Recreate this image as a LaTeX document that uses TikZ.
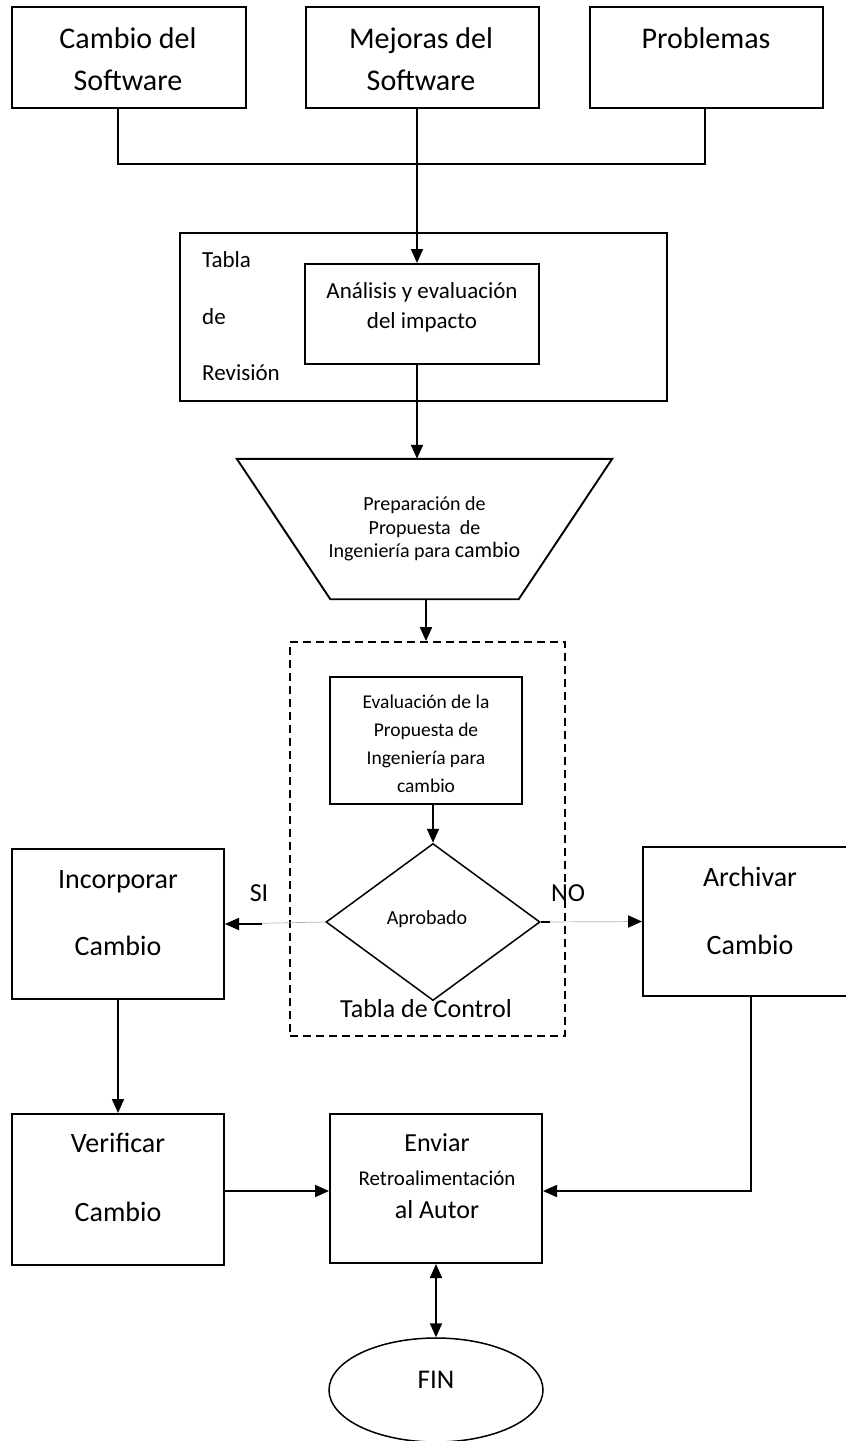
\documentclass[tikz,border=0pt]{standalone}
\usepackage{fontspec}
\setmainfont{Carlito}
\usetikzlibrary{shapes.geometric,arrows.meta,calc}
\begin{document}
\begin{tikzpicture}[x=1pt,y=-1pt,
  box/.style={draw,line width=2pt,inner sep=0pt},
  lbl/.style={inner sep=0pt,align=center},
  lnk/.style={line width=1.9pt},
  arr/.style={line width=1.9pt,-{Triangle[length=14pt,width=12pt]}},
  dblarr/.style={line width=1.9pt,{Triangle[length=14pt,width=12pt]}-{Triangle[length=14pt,width=12pt]}},
  faint/.style={line width=0.7pt,draw=black!30},
]
\useasboundingbox (0,0) rectangle (846,1441);
\clip (0,0) rectangle (846,1441);

% sources of change
\node[box,minimum width=234,minimum height=101] (b1) at (129,57.5) {};
\node[box,minimum width=233,minimum height=101] (b2) at (422.5,57.5) {};
\node[box,minimum width=233,minimum height=101] (b3) at (706.5,57.5) {};
\node[lbl,font=\fontsize{30}{42}\selectfont] (t1) at (128,59) {Cambio del\\Software};
\node[lbl,font=\fontsize{30}{42}\selectfont] (t2) at (421,59) {Mejoras del\\Software};
\node[lbl,font=\fontsize{30}{42}\selectfont] (t3) at (706,38) {Problemas};

% review board
\node[box,minimum width=487,minimum height=168] (tabla) at (423.5,317) {};
\node[box,minimum width=234,minimum height=100] (anal) at (422,314) {};
\node[lbl,font=\fontsize{23}{30}\selectfont] (tanal) at (422,307) {Análisis y evaluación\\del impacto};
\node[lbl,anchor=west,font=\fontsize{23}{23}\selectfont] (tt1) at (202,260) {Tabla};
\node[lbl,anchor=west,font=\fontsize{23}{23}\selectfont] (tt2) at (202,317) {de};
\node[lbl,anchor=west,font=\fontsize{23}{23}\selectfont] (tt3) at (202,373) {Revisión};

% engineering change proposal: inverted trapezoid around a frame node
\node[minimum width=375,minimum height=140,inner sep=0pt,
      align=center,font=\fontsize{20}{23.5}\selectfont] (trap) at (424.5,529)
      {Preparación de\\Propuesta\ \ de\\Ingeniería para {\fontsize{22}{23.5}\selectfont cambio}};
\draw[line width=1.9pt,line join=miter] (trap.north west) -- (trap.north east)
  -- ($(trap.south east)+(-93.5,0)$) -- ($(trap.south west)+(93.5,0)$) -- cycle;

% control board
\node[draw,dashed,dash pattern=on 8pt off 5pt,line width=1.8pt,minimum width=275,minimum height=394,inner sep=0pt] (ctl) at (427.5,839) {};
\node[box,minimum width=192,minimum height=127] (eval) at (426,740.5) {};
\node[lbl,font=\fontsize{19.5}{28}\selectfont] (teval) at (426,744) {Evaluación de la\\Propuesta de\\Ingeniería para\\cambio};
\node[draw,diamond,line width=1.5pt,minimum width=214,minimum height=157,inner sep=0pt] (dia) at (433,922) {};
\node[lbl,font=\fontsize{20}{20}\selectfont] (tdia) at (427,919) {Aprobado};
\node[lbl,font=\fontsize{26}{26}\selectfont] (tctl) at (426,1009) {Tabla de Control};

% outcomes
\node[box,minimum width=212,minimum height=150] (inc) at (118,924) {};
\node[lbl,font=\fontsize{28}{67}\selectfont] (tinc) at (118,913.5) {Incorporar\\Cambio};
\node[box,minimum width=216,minimum height=149] (arc) at (751,921.5) {};
\node[lbl,font=\fontsize{28}{68}\selectfont] (tarc) at (750,911) {Archivar\\Cambio};
\node[lbl,font=\fontsize{26}{26}\selectfont] (si) at (259,893) {SI};
\node[lbl,font=\fontsize{26}{26}\selectfont] (no) at (568,893) {NO};

\node[box,minimum width=212,minimum height=151] (ver) at (118,1189.5) {};
\node[lbl,font=\fontsize{28}{69}\selectfont] (tver) at (118,1177.5) {Verificar\\Cambio};
\node[box,minimum width=212,minimum height=149] (env) at (436,1188.5) {};
\node[lbl,font=\fontsize{26}{33.5}\selectfont] (tenv) at (437,1176.5)
      {Enviar\\{\fontsize{21}{33.5}\selectfont Retroalimentación}\\al Autor};

\node[draw,ellipse,line width=1.5pt,minimum width=214,minimum height=104,inner sep=0pt] (fin) at (436,1390) {};
\node[lbl,font=\fontsize{27}{27}\selectfont] (tfin) at (436,1380) {FIN};

% connectors
\coordinate (j1) at (118,164);
\coordinate (jm) at (417,164);
\coordinate (j3) at (705,164);
\coordinate (tb) at (426,599);
\draw[lnk] (b1.south -| j1) -- (j1) -- (j3) -- (b3.south -| j3);
\draw[arr] (b2.south -| jm) -- (anal.north -| jm);
\draw[arr] (anal.south -| jm) -- (trap.north -| jm);
\draw[arr] (trap.south -| tb) -- (ctl.north -| tb);
\draw[arr] (eval.south -| dia.north) -- (dia.north);

\draw[faint] (dia.west) -- (inc.east);
\draw[arr] ($(inc.east)+(37,0)$) -- (inc.east);
\draw[faint] (dia.east) -- (arc.west);
\draw[lnk] (dia.east) -- ++(9,0);
\draw[arr] ($(arc.west)+(-12,0)$) -- (arc.west);

\draw[arr] (inc.south) -- (ver.north);
\draw[arr] (ver.east |- 0,1191) -- (env.west |- 0,1191);
\draw[arr] (arc.south) -- (arc.south |- 0,1191) -- (env.east |- 0,1191);
\draw[dblarr] (env.south) -- (fin.north);
\end{tikzpicture}
\end{document}
